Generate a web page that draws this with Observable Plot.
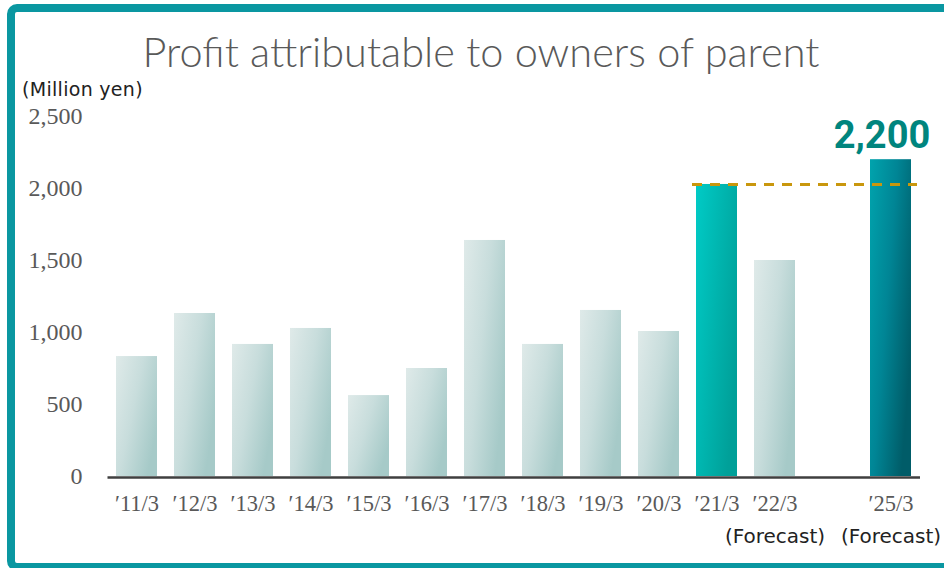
<!DOCTYPE html>
<html><head><meta charset="utf-8">
<script src="https://cdn.jsdelivr.net/npm/d3@7"></script>
<script src="https://cdn.jsdelivr.net/npm/@observablehq/plot@0.6"></script>
<style>
body{margin:0;width:944px;height:568px;overflow:hidden;background:#fff;position:relative}
#frame{position:absolute;left:7px;top:4px;width:990px;height:567px;border:8px solid #0a97a1;border-radius:10px;box-sizing:border-box;pointer-events:none}
#title{position:absolute;left:0;width:962px;text-align:center;top:26px;font:300 41.5px Lato, sans-serif;color:#595959;white-space:nowrap}
#unit{position:absolute;left:22px;top:78px;font:400 19px "DejaVu Sans", sans-serif;color:#222;white-space:nowrap;letter-spacing:0.3px}
#chart{position:absolute;left:0;top:0}
</style></head>
<body>
<div id="chart"></div>
<div id="title">Profit attributable to owners of parent</div>
<div id="unit">(Million yen)</div>
<div id="frame"></div>
<script>
const periods = ["′11/3","′12/3","′13/3","′14/3","′15/3","′16/3","′17/3","′18/3","′19/3","′20/3","′21/3","′22/3","′25/3"];
const profit = [833,1132,917,1028,562,750,1639,917,1153,1007,2028,1500,2200];
const kinds = ["past","past","past","past","past","past","past","past","past","past","record","past","target"];
const notes = ["","","","","","","","","","","","(Forecast)","(Forecast)"];
const gap = " ";
const xDomain = [...periods.slice(0, 12), gap, periods[12]];
const yTicks = [0,500,1000,1500,2000,2500];

const data = periods.map((p, i) => ({period: p, value: profit[i], kind: kinds[i], note: notes[i]}));
const recordIndex = kinds.indexOf("record");
const targetIndex = kinds.indexOf("target");
const recordValue = profit[recordIndex];

const defs = () => {
  const d = d3.create("svg:defs");
  const grad = (id, stops) => {
    const g = d.append("linearGradient").attr("id", id)
      .attr("x1", 0).attr("y1", 0).attr("x2", 1).attr("y2", 0.6);
    stops.forEach(([o, c]) => g.append("stop").attr("offset", o).attr("stop-color", c));
  };
  grad("gPast", [[0, "#dfeae9"], [0.5, "#c8dddc"], [1, "#a6cac8"]]);
  grad("gRecord", [[0, "#00cbc6"], [1, "#00a099"]]);
  grad("gTarget", [[0, "#00a3ad"], [0.5, "#008595"], [1, "#005c68"]]);
  return d.node();
};

const chart = Plot.plot({
  width: 944,
  height: 568,
  marginLeft: 107.5,
  marginRight: 24,
  marginTop: 116,
  marginBottom: 92,
  style: {background: "transparent", overflow: "visible"},
  x: {type: "band", domain: xDomain, paddingInner: 0.29, paddingOuter: 0.145, axis: null},
  y: {domain: [0, 2500], ticks: yTicks, axis: null, label: null},
  marks: [
    defs,
    Plot.axisY({ticks: yTicks, tickSize: 0, tickPadding: 25.5, tickFormat: d3.format(","), label: null,
      fontSize: 24, fontFamily: "Liberation Serif, serif", fill: "#595959"}),
    Plot.barY(data, {filter: d => d.kind === "past", x: "period", y: "value", fill: "url(#gPast)"}),
    Plot.barY(data, {filter: d => d.kind === "record", x: "period", y: "value", fill: "url(#gRecord)"}),
    Plot.barY(data, {filter: d => d.kind === "target", x: "period", y: "value", fill: "url(#gTarget)"}),
    Plot.ruleY([0], {stroke: "#3f3f3f", strokeWidth: 2.5, dy: 1}),
    Plot.ruleY([recordValue], {x1: () => periods[recordIndex], x2: () => periods[targetIndex],
      stroke: "#c9970d", strokeWidth: 3, strokeDasharray: "10,8", insetLeft: -4, insetRight: -6}),
    Plot.text(data, {x: "period", y: 0, text: "period", lineAnchor: "middle", dy: 27,
      fontSize: 22.5, fontFamily: "Liberation Serif, serif", fill: "#595959"}),
    Plot.text(data, {filter: d => d.note, x: "period", y: 0, text: "note", lineAnchor: "middle", dy: 60,
      fontSize: 20, fontFamily: "DejaVu Sans, sans-serif", fill: "#222"}),
    Plot.text(data, {filter: d => d.kind === "target", x: "period", y: "value", text: d => d3.format(",")(d.value),
      lineAnchor: "bottom", dy: -12, dx: -9, fontSize: 38, fontWeight: "bold", fontFamily: "Roboto, sans-serif", fill: "#00857e"})
  ]
});
document.getElementById("chart").appendChild(chart);
</script>
</body></html>
